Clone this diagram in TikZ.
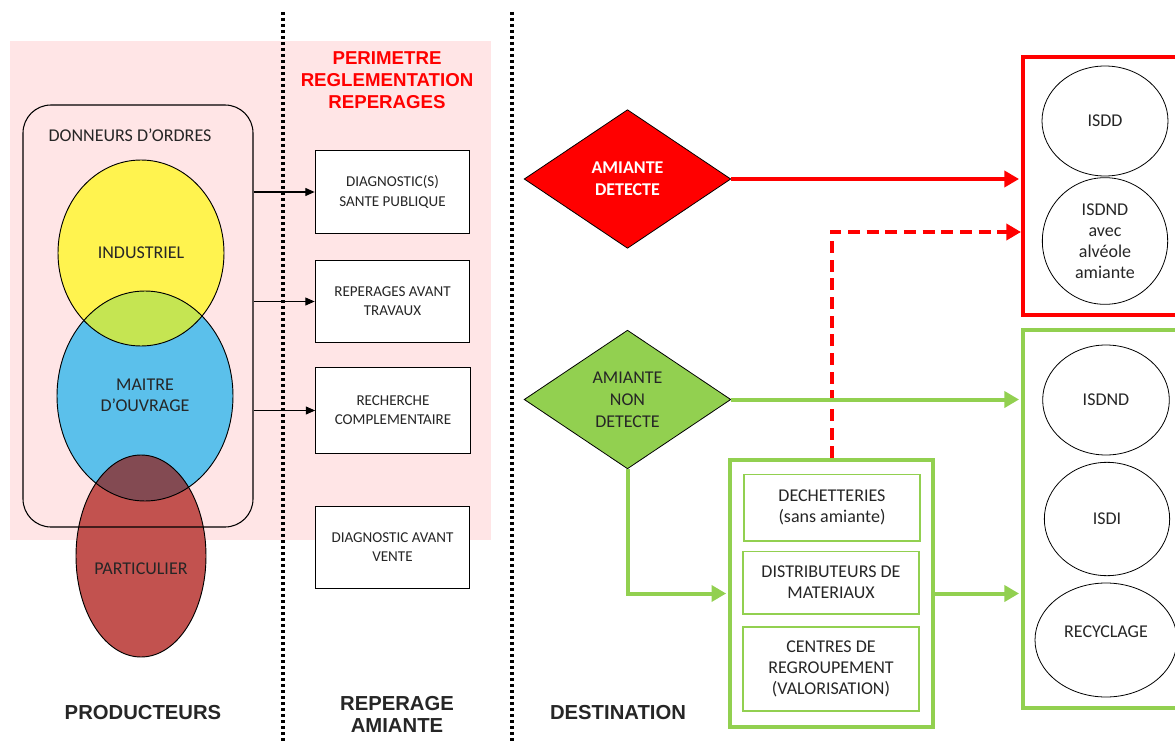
\documentclass[tikz,border=0pt]{standalone}
\usepackage{fontspec}
\setmainfont{Carlito}
\newfontfamily\headfont{Liberation Sans}
\usetikzlibrary{shapes.geometric,arrows.meta,positioning}
\definecolor{pinkbg}{HTML}{FFE5E6}
\definecolor{jaune}{HTML}{FFF34F}
\definecolor{bleu}{HTML}{5BC0EB}
\definecolor{vertclair}{HTML}{C5E552}
\definecolor{rouge}{HTML}{C2524F}
\definecolor{brun}{HTML}{834A52}
\definecolor{vert}{HTML}{92D050}
\definecolor{texte}{HTML}{262626}

\begin{document}
\begin{tikzpicture}[x=0.75pt,y=-0.75pt,
    every node/.style={font=\fontsize{13.5}{16}\selectfont, align=center, inner sep=0pt, text=texte},
    repbox/.style={draw, fill=white, line width=0.8pt, minimum width=116pt, minimum height=62pt, font=\fontsize{11.3}{14.3}\selectfont},
    decision/.style={diamond, draw, line width=0.6pt, minimum width=155pt, minimum height=104pt, aspect=1.5, font=\fontsize{13.5}{16.5}\selectfont},
    trier/.style={draw=vert, line width=1pt, minimum width=132pt, font=\fontsize{13.5}{15.75}\selectfont},
    filiere/.style={ellipse, draw, line width=0.6pt, font=\fontsize{13.5}{15.75}\selectfont},
    zone/.style={line width=3.2pt, minimum width=125pt},
    heading/.style={font=\headfont\bfseries\fontsize{15.2}{16.5}\selectfont},
    flow/.style={line width=3pt, -{Triangle[length=11pt,width=12pt]}, shorten >=1.5pt},
    separator/.style={line width=2.6pt, dash pattern=on 2.6pt off 1.9pt}
]
    \useasboundingbox (0,0) rectangle (1175,742);
    \clip (0,0) rectangle (1175,742);

    % perimetre
    \fill[pinkbg] (10,41) rectangle (491,540);
    \draw[separator] (283,12) -- (283,742);
    \draw[separator] (512,12) -- (512,742);

    % producteurs
    \fill[jaune] (141,253) ellipse [x radius=83, y radius=93];
    \fill[bleu] (145,396) ellipse [x radius=88, y radius=105];
    \begin{scope}
        \clip (141,253) ellipse [x radius=83, y radius=93];
        \fill[vertclair] (145,396) ellipse [x radius=88, y radius=105];
    \end{scope}
    \fill[rouge] (141,556) ellipse [x radius=65, y radius=101];
    \begin{scope}
        \clip (145,396) ellipse [x radius=88, y radius=105];
        \fill[brun] (141,556) ellipse [x radius=65, y radius=101];
    \end{scope}
    \draw[line width=0.7pt] (141,253) ellipse [x radius=83, y radius=93];
    \draw[line width=0.7pt] (145,396) ellipse [x radius=88, y radius=105];
    \draw[line width=0.7pt] (141,556) ellipse [x radius=65, y radius=101];
    \node[draw, rounded corners=21pt, line width=0.8pt, minimum width=172.5pt, minimum height=316.5pt] (donneurs) at (138,316) {};
    \node (donneurslbl) at (130,135) {DONNEURS D’ORDRES};
    \node (industriel) at (141,253) {INDUSTRIEL};
    \node (maitre) at (145,395) {MAITRE\\D’OUVRAGE};
    \node (particulier) at (141,569) {PARTICULIER};

    % reperages
    \node[heading, text=red, font=\headfont\bfseries\fontsize{14}{16.5}\selectfont] (perimetre) at (387,80) {PERIMETRE\\REGLEMENTATION\\REPERAGES};
    \node[repbox] (diagsp) at (392.5,192) {DIAGNOSTIC(S)\\SANTE PUBLIQUE};
    \node[repbox] (avtrav) at (392.5,301.5) {REPERAGES AVANT\\TRAVAUX};
    \node[repbox, minimum height=65pt] (recomp) at (393,410.5) {RECHERCHE\\COMPLEMENTAIRE};
    \node[repbox, minimum height=61pt] (diagvente) at (392.5,547.5) {DIAGNOSTIC AVANT\\VENTE};
    \foreach \b in {diagsp,avtrav,recomp}
        \draw[line width=0.8pt, -{Triangle[length=7pt,width=6pt]}] (donneurs.east |- \b.west) -- (\b.west);

    % destination
    \node[decision, fill=red, font=\bfseries\fontsize{13.5}{16.5}\selectfont, text=white] (detecte) at (627.5,179) {AMIANTE\\DETECTE};
    \node[decision, fill=vert] (nondetecte) at (627.5,399.5) {AMIANTE\\NON\\DETECTE};
    \node[draw=vert, line width=3pt, minimum width=152pt, minimum height=200pt] (tri) at (831.5,593.5) {};
    \node[trier, minimum height=50pt] (dechet) at (832,507.5) {DECHETTERIES\\(sans amiante)};
    \node[trier, minimum height=47pt] (distrib) at (831,582.5) {DISTRIBUTEURS DE\\MATERIAUX};
    \node[trier, minimum height=63pt] (centres) at (831,669) {CENTRES DE\\REGROUPEMENT\\(VALORISATION)};

    \node[zone, draw=red, minimum height=193.5pt] (dangereux) at (1106.5,186) {};
    \node[zone, draw=vert, minimum height=283.5pt] (inerte) at (1106.5,519) {};
    \node[filiere, minimum width=94.5pt, minimum height=82.5pt] (isdd) at (1105,121) {ISDD};
    \node[filiere, minimum width=94pt, minimum height=95pt] (isdnda) at (1105,241) {ISDND\\avec\\alvéole\\amiante};
    \node[filiere, minimum width=95pt, minimum height=82.5pt] (isdnd) at (1106,400) {ISDND};
    \node[filiere, minimum width=94pt, minimum height=85pt] (isdi) at (1107,519) {ISDI};
    \node[filiere, minimum width=106.5pt, minimum height=85.5pt] (recyclage) at (1106,640) {\raisebox{12pt}{RECYCLAGE}};

    \coordinate (dashin) at (1023,232);
    \draw[flow, red] (detecte.east) -- (detecte.east -| dangereux.west);
    \draw[flow, red, dash pattern=on 9pt off 5pt] (tri.north) |- (dashin);
    \draw[flow, vert] (nondetecte.east) -- (nondetecte.east -| inerte.west);
    \draw[flow, vert] (nondetecte.south) |- (tri.west);
    \draw[flow, vert] (tri.east) -- (tri.east -| inerte.west);

    % colonnes
    \node[heading] (producteurs) at (143,713) {PRODUCTEURS};
    \node[heading] (reperage) at (397,714) {REPERAGE\\AMIANTE};
    \node[heading] (destination) at (618,713) {DESTINATION};
\end{tikzpicture}
\end{document}
